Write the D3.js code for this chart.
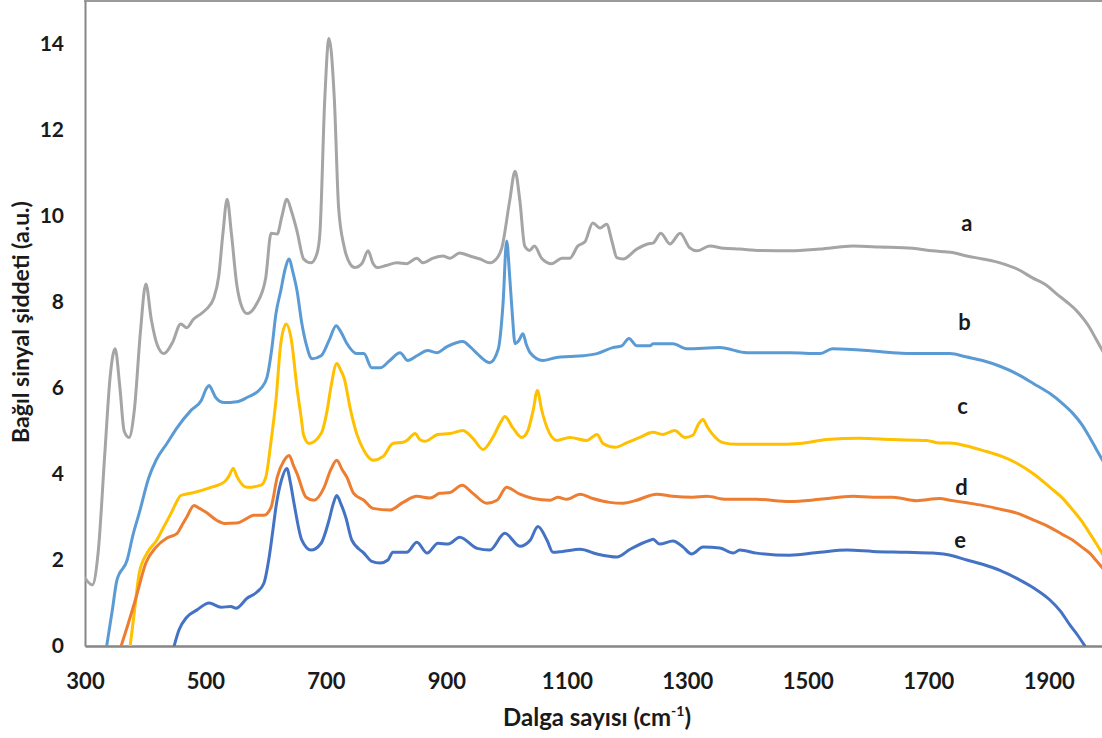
<!DOCTYPE html>
<html>
<head>
<meta charset="utf-8">
<script src="https://cdn.jsdelivr.net/npm/d3@7"></script>
<style>
  html, body { margin: 0; padding: 0; background: #fff; overflow: hidden; }
  svg { display: block; }
  text { font-family: Lato, "Open Sans", sans-serif; font-weight: 700; fill: #1a1a1a; }
</style>
</head>
<body>
<svg id="chart" width="1102" height="738"></svg>
<script>
// ---- Data ----
const xTicks = [300, 500, 700, 900, 1100, 1300, 1500, 1700, 1900];
const yTicks = [0, 2, 4, 6, 8, 10, 12, 14];
const seriesNames = ["a", "b", "c", "d", "e"];
const seriesColors = ["#A5A5A5", "#5B9BD5", "#FFC000", "#ED7D31", "#4472C4"];
const labelPos = [[1764, 9.84], [1760, 7.55], [1757, 5.6], [1755, 3.7], [1753, 2.48]];

const seriesA = [[300,1.58],[312,1.42],[322,2.2],[333,4.5],[342,6.3],[350,6.91],[358,6.0],[365,5.0],[373,4.85],[382,5.5],[392,7.3],[401,8.42],[410,7.6],[420,7.0],[431,6.8],[445,7.05],[459,7.49],[469,7.4],[480,7.6],[493,7.73],[502,7.84],[514,8.1],[522,8.6],[529,9.6],[536,10.39],[543,9.6],[552,8.4],[560,7.9],[569,7.73],[585,7.96],[600,8.56],[609,9.6],[619,9.58],[627,10.0],[635,10.39],[643,10.1],[652,9.65],[663,9.0],[675,8.91],[685,9.12],[690,9.6],[698,12.7],[705,14.13],[714,12.7],[721,10.2],[730,9.3],[740,8.89],[748,8.8],[760,8.9],[770,9.19],[778,8.9],[785,8.8],[800,8.85],[818,8.91],[834,8.89],[851,9.02],[861,8.91],[878,9.02],[894,9.07],[906,9.02],[922,9.14],[939,9.07],[956,9.0],[972,8.91],[984,9.02],[992,9.26],[1005,10.35],[1014,11.04],[1022,10.35],[1030,9.3],[1038,9.2],[1046,9.3],[1058,9.02],[1075,8.89],[1092,9.02],[1105,9.02],[1118,9.3],[1130,9.4],[1143,9.84],[1155,9.72],[1166,9.81],[1175,9.4],[1183,9.03],[1193,9.0],[1216,9.23],[1234,9.35],[1243,9.37],[1256,9.6],[1271,9.35],[1288,9.6],[1304,9.26],[1316,9.19],[1337,9.3],[1360,9.25],[1387,9.23],[1420,9.2],[1470,9.19],[1520,9.23],[1575,9.3],[1620,9.28],[1674,9.25],[1707,9.19],[1740,9.15],[1764,9.07],[1790,9.0],[1819,8.91],[1850,8.75],[1873,8.56],[1895,8.4],[1913,8.19],[1930,8.0],[1946,7.8],[1958,7.6],[1968,7.4],[1978,7.15],[1990,6.85]];

const seriesB = [[336,0],[345,0.8],[353,1.53],[370,2.0],[380,2.6],[390,3.09],[406,3.92],[418,4.32],[436,4.71],[453,5.08],[476,5.48],[493,5.71],[502,6.0],[506,6.06],[511,5.95],[517,5.78],[531,5.66],[552,5.68],[569,5.78],[592,5.99],[602,6.24],[610,6.9],[617,7.73],[625,8.26],[632,8.75],[639,9.0],[645,8.7],[652,8.26],[660,7.5],[667,7.03],[677,6.68],[692,6.75],[705,7.1],[717,7.45],[725,7.3],[735,7.03],[751,6.8],[763,6.8],[776,6.47],[790,6.47],[806,6.64],[823,6.82],[836,6.64],[851,6.75],[869,6.87],[884,6.82],[901,6.96],[927,7.08],[940,6.95],[951,6.8],[972,6.59],[986,6.9],[994,7.96],[1000,9.42],[1005,8.6],[1009,7.8],[1014,7.03],[1020,7.1],[1027,7.26],[1033,7.0],[1039,6.82],[1060,6.64],[1083,6.71],[1105,6.73],[1127,6.75],[1150,6.8],[1176,6.94],[1191,6.98],[1203,7.15],[1216,6.98],[1238,6.98],[1243,7.03],[1276,7.03],[1299,6.91],[1354,6.94],[1399,6.82],[1470,6.82],[1520,6.8],[1541,6.91],[1600,6.87],[1641,6.82],[1686,6.8],[1719,6.8],[1736,6.8],[1764,6.72],[1790,6.64],[1820,6.5],[1847,6.33],[1875,6.1],[1902,5.87],[1922,5.65],[1940,5.41],[1955,5.15],[1968,4.85],[1978,4.6],[1990,4.3]];

const seriesC = [[375,0],[382,0.8],[390,1.69],[403,2.16],[419,2.46],[430,2.75],[443,3.09],[452,3.35],[459,3.5],[481,3.57],[509,3.69],[531,3.81],[539,3.95],[546,4.13],[552,3.95],[556,3.85],[569,3.69],[592,3.74],[600,3.92],[609,4.78],[617,5.71],[625,7.03],[634,7.49],[642,7.17],[652,6.0],[659,5.3],[663,4.9],[672,4.71],[692,4.94],[702,5.48],[708,6.0],[718,6.57],[725,6.4],[730,6.24],[741,5.48],[751,4.94],[763,4.55],[770,4.4],[778,4.32],[795,4.41],[811,4.71],[828,4.74],[836,4.8],[848,4.94],[856,4.8],[864,4.76],[886,4.92],[906,4.94],[927,5.01],[944,4.83],[961,4.57],[977,4.85],[990,5.2],[997,5.34],[1010,5.08],[1025,4.85],[1035,5.0],[1044,5.48],[1051,5.94],[1058,5.5],[1067,5.08],[1083,4.78],[1105,4.85],[1133,4.78],[1150,4.92],[1160,4.71],[1180,4.62],[1200,4.73],[1221,4.85],[1243,4.97],[1259,4.92],[1279,5.01],[1296,4.85],[1309,4.9],[1318,5.15],[1326,5.27],[1333,5.1],[1341,4.94],[1359,4.73],[1382,4.69],[1442,4.69],[1487,4.71],[1531,4.8],[1586,4.83],[1641,4.8],[1697,4.78],[1719,4.72],[1736,4.72],[1764,4.65],[1790,4.55],[1820,4.42],[1847,4.25],[1875,4.0],[1902,3.69],[1922,3.45],[1940,3.16],[1955,2.9],[1968,2.62],[1978,2.4],[1990,2.12]];

const seriesD = [[360,0],[370,0.44],[385,1.14],[401,1.93],[418,2.3],[436,2.51],[453,2.62],[461,2.81],[469,3.0],[481,3.27],[490,3.2],[501,3.11],[519,2.92],[531,2.85],[552,2.86],[569,2.97],[580,3.04],[597,3.04],[609,3.23],[619,3.92],[630,4.3],[639,4.43],[646,4.2],[652,4.01],[667,3.46],[680,3.39],[697,3.69],[708,4.1],[718,4.32],[727,4.1],[735,3.92],[746,3.55],[763,3.39],[778,3.2],[806,3.16],[828,3.34],[851,3.48],[873,3.44],[889,3.55],[906,3.57],[926,3.74],[944,3.55],[967,3.32],[984,3.39],[1000,3.69],[1022,3.53],[1044,3.43],[1072,3.39],[1085,3.46],[1100,3.41],[1122,3.53],[1143,3.43],[1171,3.34],[1193,3.32],[1216,3.39],[1238,3.5],[1249,3.53],[1276,3.48],[1309,3.46],[1332,3.48],[1365,3.41],[1415,3.41],[1470,3.36],[1520,3.41],[1575,3.48],[1608,3.46],[1641,3.46],[1681,3.38],[1719,3.43],[1736,3.39],[1764,3.33],[1790,3.27],[1820,3.18],[1847,3.09],[1875,2.93],[1902,2.76],[1922,2.6],[1940,2.46],[1955,2.3],[1968,2.16],[1978,2.0],[1990,1.8]];

const seriesE = [[448,0],[456,0.37],[469,0.67],[486,0.84],[506,1.0],[526,0.9],[542,0.92],[551,0.88],[569,1.11],[585,1.25],[597,1.46],[605,2.0],[612,2.7],[617,3.23],[626,3.85],[635,4.13],[641,3.8],[647,3.32],[660,2.46],[675,2.23],[692,2.39],[705,2.92],[712,3.3],[718,3.5],[725,3.3],[733,2.99],[743,2.46],[763,2.16],[776,1.97],[790,1.93],[803,2.0],[811,2.18],[834,2.18],[851,2.41],[868,2.16],[886,2.39],[903,2.37],[922,2.53],[951,2.27],[972,2.23],[997,2.62],[1022,2.32],[1039,2.46],[1052,2.78],[1067,2.46],[1077,2.18],[1093,2.2],[1122,2.25],[1150,2.14],[1183,2.07],[1205,2.25],[1238,2.46],[1243,2.48],[1254,2.37],[1276,2.44],[1293,2.3],[1307,2.14],[1326,2.3],[1354,2.28],[1376,2.16],[1387,2.23],[1415,2.16],[1470,2.11],[1520,2.18],[1565,2.23],[1608,2.2],[1664,2.18],[1707,2.16],[1740,2.1],[1764,2.0],[1790,1.9],[1819,1.76],[1850,1.55],[1875,1.35],[1902,1.07],[1920,0.8],[1935,0.49],[1948,0.25],[1960,0]];

const allSeries = [seriesA, seriesB, seriesC, seriesD, seriesE];

// ---- Layout ----
const svg = d3.select("#chart");
const pLeft = 85, pRight = 1109, pTop = 1, pBottom = 646;
const x = d3.scaleLinear().domain([300, 2000]).range([pLeft, pRight]);
const y = d3.scaleLinear().domain([0, 15]).range([pBottom, pTop]);

svg.append("defs").append("clipPath").attr("id", "plotClip")
  .append("rect").attr("x", pLeft).attr("y", pTop).attr("width", pRight - pLeft).attr("height", pBottom - pTop);

// frame top
svg.append("line").attr("x1", pLeft - 1).attr("x2", pRight).attr("y1", pTop).attr("y2", pTop)
  .attr("stroke", "#9a9a9a").attr("stroke-width", 2);

// y tick labels
const yAxis = d3.axisLeft(y).tickValues(yTicks).tickSize(0).tickPadding(21).tickFormat(d3.format("d"));
const gy = svg.append("g").attr("transform", `translate(${pLeft},0)`).call(yAxis);
gy.select(".domain").attr("stroke", "#868686").attr("stroke-width", 2);
gy.selectAll("text").attr("font-size", 21).attr("font-family", "Lato, sans-serif").attr("font-weight", 700).attr("fill", "#1a1a1a");

// x tick labels
const xAxis = d3.axisBottom(x).tickValues(xTicks).tickSize(0).tickPadding(27).tickFormat(d3.format("d"));
const gx = svg.append("g").attr("transform", `translate(0,${pBottom})`).call(xAxis);
gx.select(".domain").attr("stroke", "#868686").attr("stroke-width", 2.5);
gx.selectAll("text").attr("font-size", 22).attr("font-family", "Lato, sans-serif").attr("font-weight", 700).attr("fill", "#1a1a1a");

// lines
const line = d3.line().x(d => x(d[0])).y(d => y(d[1])).curve(d3.curveMonotoneX);
const plot = svg.append("g").attr("clip-path", "url(#plotClip)");
allSeries.forEach((s, i) => {
  plot.append("path").datum(s).attr("d", line)
    .attr("fill", "none").attr("stroke", seriesColors[i]).attr("stroke-width", 3)
    .attr("stroke-linejoin", "round").attr("stroke-linecap", "round");
});

// series letters
seriesNames.forEach((n, i) => {
  svg.append("text").attr("x", x(labelPos[i][0])).attr("y", y(labelPos[i][1]))
    .attr("text-anchor", "middle").attr("dominant-baseline", "central")
    .attr("font-size", 22).text(n);
});

// axis titles
const xt = svg.append("text").attr("x", 597).attr("y", 726).attr("text-anchor", "middle").attr("font-size", 24);
xt.append("tspan").text("Dalga sayısı (cm");
xt.append("tspan").attr("font-size", 14).attr("dy", -10).text("-1");
xt.append("tspan").attr("dy", 10).text(")");

svg.append("text").attr("transform", "translate(29,322) rotate(-90)")
  .attr("text-anchor", "middle").attr("font-size", 23).text("Bağıl sinyal şiddeti (a.u.)");
</script>
</body>
</html>
